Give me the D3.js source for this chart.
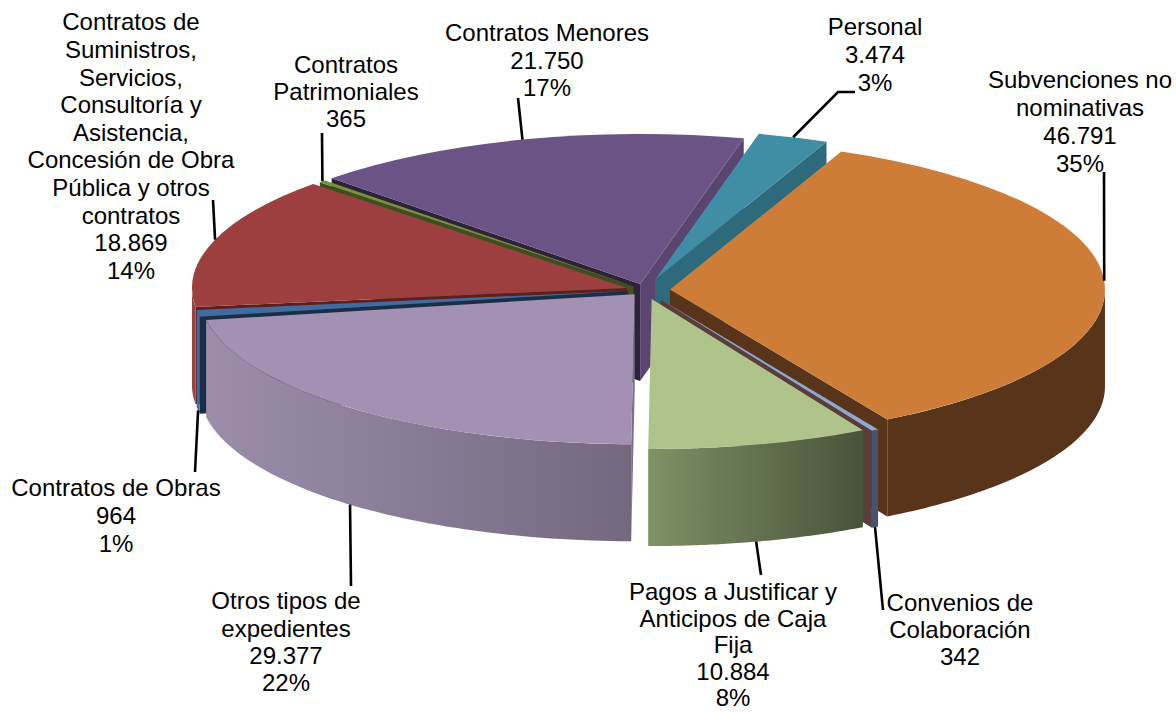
<!DOCTYPE html>
<html><head><meta charset="utf-8">
<script src="https://cdn.jsdelivr.net/npm/d3@7"></script>
<style>html,body{margin:0;padding:0;background:#fff}svg{display:block}</style></head>
<body><svg id="c" width="1176" height="713"></svg>
<script>
// Data
const categories = ["Subvenciones no nominativas","Convenios de Colaboración","Pagos a Justificar y Anticipos de Caja Fija","Otros tipos de expedientes","Contratos de Obras","Contratos de Suministros, Servicios, Consultoría y Asistencia, Concesión de Obra Pública y otros contratos","Contratos Patrimoniales","Contratos Menores","Personal"];
const values = [46791,342,10884,29377,964,18869,365,21750,3474];
const valueLabels = ["46.791","342","10.884","29.377","964","18.869","365","21.750","3.474"];
const percentLabels = ["35%",null,"8%","22%","1%","14%",null,"17%","3%"];

// Style / layout
const labelLines = [["Subvenciones no","nominativas"],["Convenios de","Colaboración"],["Pagos a Justificar y","Anticipos de Caja","Fija"],["Otros tipos de","expedientes"],["Contratos de Obras"],["Contratos de","Suministros,","Servicios,","Consultoría y","Asistencia,","Concesión de Obra","Pública y otros","contratos"],["Contratos","Patrimoniales"],["Contratos Menores"],["Personal"]];
const labelX = [1080,960,733,286,116,131,346,547,875];
const labelY = [80,603,592,601,488,22,65,33,27];
const lineStep = [28,27,26.5,27.3,28,27.6,27,27.5,28];
const leaderEnd = [[1104,172],[883,610],[761,575],[351,586],[195,472],[213,200],[322,133],[518,98],[855,92]];
const leaderElbow = [null,null,null,null,null,null,null,null,[838,92]];
const anchorNudgeDeg = [0,0,0.4,0.6,0,0.5,0,0,0];
const explode = [25,32,27,16,17,19,16,18,32];
const topColor = ["#CD7D38","#8FA8D2","#AFC48A","#A291B3","#3F6DA2","#9C3F3E","#76933C","#6C5385","#3F8EA6"];
const rimFrom = ["#57341A","#45536C","#7F9165","#9C8EAB","#3F6DA2","#9C3F3E","#4F6228","#5A4470","#2D6A7C"];
const rimTo = ["#57341A","#45536C","#47533A","#74687F","#3F6DA2","#9C3F3E","#4F6228","#5A4470","#2D6A7C"];
const faceStart = ["#57341A","#45536C","#5A6B45","#7A6E88","#1A2E48","#5B2020","#3E4F1F","#2D2238","#2D6A7C"];
const faceEnd = ["#57341A","#5A3D3A","#5A6B45","#7A6E88","#1A2E48","#5B2020","#3E4F1F","#5A4470","#2D6A7C"];

const cx = 645, cy = 290, rx = 435, ry = 150, depth = 97;
const k = ry / rx;
const startAngle = 23.2 * Math.PI / 180;
const svg = d3.select("#c");
const defs = svg.append("defs");

const arcs = d3.pie().sort(null).startAngle(startAngle).endAngle(startAngle + 2*Math.PI)(values);
const arc = d3.arc().innerRadius(0).outerRadius(rx);
const line = d3.line();

const slices = arcs.map((a,i) => {
  const mid = (a.startAngle + a.endAngle) / 2;
  const ax = cx + explode[i] * Math.sin(mid);
  const ay = cy - explode[i] * Math.cos(mid) * k;
  const rim = t => [ax + rx*Math.sin(t), ay - ry*Math.cos(t)];
  return {i, a, mid, ax, ay, rim};
});
const norm = t => { let v = t % (2*Math.PI); return v < 0 ? v + 2*Math.PI : v; };
const down = p => [p[0], p[1] + depth];

const order = slices.slice().sort((p,q) => (-Math.cos(p.mid)) - (-Math.cos(q.mid)));

order.forEach(s => {
  const {i,a,ax,ay,rim} = s;
  const g = svg.append("g");
  const apex = [ax,ay];
  const face = (t,c) => g.append("path")
    .attr("d", line([apex, rim(t), down(rim(t)), down(apex)]) + "Z").attr("fill", c);
  // only the cut faces that turn towards the viewer
  if (Math.sin(a.startAngle) < 0) face(a.startAngle, faceStart[i]);
  if (Math.sin(a.endAngle) > 0) face(a.endAngle, faceEnd[i]);

  // visible outer wall: the part of the rim between 90° and 270° clockwise from the top
  const s0 = norm(a.startAngle), s1 = s0 + (a.endAngle - a.startAngle);
  const from = Math.max(s0, Math.PI/2), to = Math.min(s1, 3*Math.PI/2);
  if (to > from) {
    const ts = d3.range(0, 61).map(j => from + (to-from)*j/60);
    const upper = ts.map(rim);
    const lower = ts.map(t => down(rim(t))).reverse();
    const id = "rim"+i;
    const gr = defs.append("linearGradient").attr("id", id).attr("gradientUnits","objectBoundingBox")
      .attr("x1",0).attr("y1",0).attr("x2",1).attr("y2",0);
    gr.append("stop").attr("offset",0).attr("stop-color", rimFrom[i]);
    gr.append("stop").attr("offset",1).attr("stop-color", rimTo[i]);
    g.append("path").attr("d", line(upper.concat(lower))+"Z").attr("fill", `url(#${id})`);
  }
  g.append("path")
    .attr("transform", `translate(${ax},${ay}) scale(1,${k})`)
    .attr("d", arc({startAngle:a.startAngle, endAngle:a.endAngle}))
    .attr("fill", topColor[i]);
});

// Leader lines: from the rim at each slice's mid-angle to its label
const leaders = svg.append("g").attr("fill","none").attr("stroke","#000").attr("stroke-width",2.6);
slices.forEach(s => {
  const {i,mid,rim} = s;
  const t = mid + anchorNudgeDeg[i]*Math.PI/180;
  let p = rim(t);
  if (Math.cos(t) < -0.05 || i === 4) p = down(p);
  const pts = [p];
  if (leaderElbow[i]) pts.push(leaderElbow[i]);
  pts.push(leaderEnd[i]);
  leaders.append("path").attr("d", line(pts));
});

// Labels
const labels = svg.append("g").attr("font-family","'Liberation Sans',Arial,sans-serif")
  .attr("font-size",24).attr("fill","#000").attr("text-anchor","middle");
slices.forEach(s => {
  const i = s.i;
  const rows = labelLines[i].concat([valueLabels[i]]).concat(percentLabels[i] ? [percentLabels[i]] : []);
  rows.forEach((r,j) => {
    labels.append("text").attr("x",labelX[i]).attr("y",labelY[i]+j*lineStep[i])
      .attr("dy","0.35em").style("white-space","pre").text(r);
  });
});
</script></body></html>
